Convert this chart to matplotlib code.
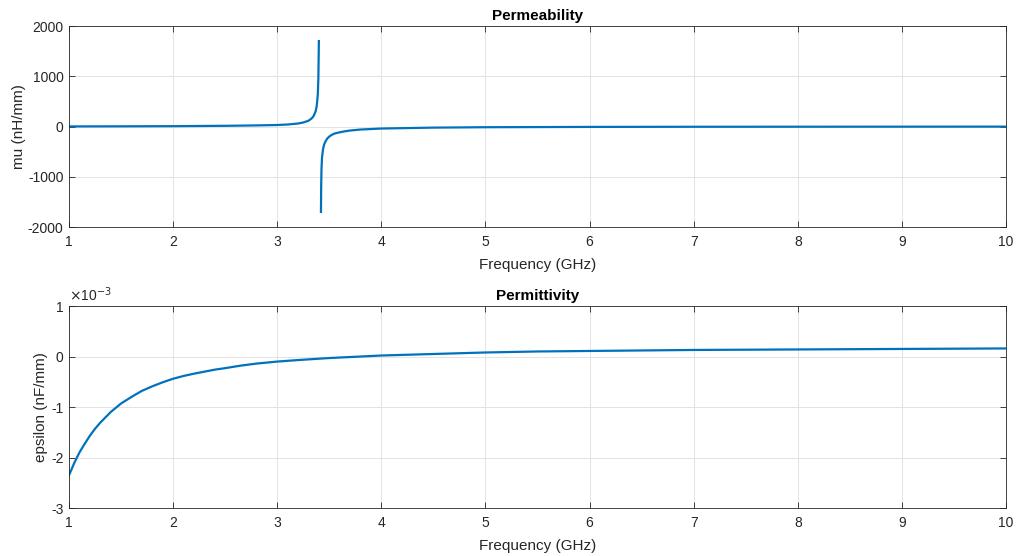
import numpy as np
import matplotlib.pyplot as plt

# permeability (nan = break at the resonance)
freq_mu = [1.0, 1.5, 2.0, 2.5, 2.8, 3.0, 3.1, 3.2, 3.25, 3.3, 3.33, 3.35, 3.37, 3.38, 3.39, 3.395, 3.40,
           3.41,
           3.42, 3.422, 3.425, 3.43, 3.44, 3.45, 3.465, 3.48, 3.50, 3.52, 3.55, 3.6, 3.65, 3.7, 3.8,
           4.0, 4.5, 5.0, 6.0, 7.0, 8.0, 10.0]
mu = [2, 4, 7, 14, 22, 30, 40, 60, 80, 115, 160, 210, 310, 420, 650, 950, 1700,
      np.nan,
      -1700, -1200, -850, -620, -450, -360, -290, -240, -200, -170, -140, -115, -95, -80, -60,
      -40, -22, -14, -8, -5, -4, -2]

# permittivity in units of 1e-3 nF/mm
freq_eps = [1.0, 1.05, 1.1, 1.15, 1.2, 1.25, 1.3, 1.4, 1.5, 1.6, 1.7, 1.8, 1.9, 2.0,
            2.1, 2.2, 2.3, 2.4, 2.5, 2.65, 2.8, 3.0, 3.2, 3.5, 3.75, 4.0, 4.5, 5.0, 5.5, 6.0,
            7.0, 8.0, 9.0, 10.0]
eps_e3 = [-2.35, -2.11, -1.90, -1.73, -1.57, -1.43, -1.31, -1.10, -0.93, -0.80, -0.68, -0.59, -0.51, -0.44,
          -0.385, -0.34, -0.30, -0.26, -0.23, -0.18, -0.14, -0.10, -0.07, -0.03, -0.005, 0.02, 0.05, 0.08,
          0.10, 0.11, 0.13, 0.14, 0.15, 0.16]

plt.rcParams['font.family'] = ['Liberation Sans', 'DejaVu Sans']
plt.rcParams['axes.unicode_minus'] = False

blue = '#0072BD'
edge = '#262626'
txt = '#262626'

fig = plt.figure(figsize=(10.21, 5.56), dpi=100)
ax1 = fig.add_axes([0.0676, 0.5917, 0.9177, 0.3615])
ax2 = fig.add_axes([0.0676, 0.0863, 0.9177, 0.3633])


def style(ax):
    ax.set_xlim(1, 10)
    ax.set_xticks(range(1, 11))
    ax.grid(True, color='#e3e3e3', linewidth=0.7)
    ax.set_axisbelow(True)
    ax.tick_params(direction='in', top=True, right=True, length=4, width=0.6,
                   labelsize=10, colors=edge, labelcolor=txt)
    ax.tick_params(axis='x', pad=6)
    ax.tick_params(axis='y', pad=4)
    for s in ax.spines.values():
        s.set_color(edge)
        s.set_linewidth(0.6)
    ax.set_xlabel('Frequency (GHz)', fontsize=11, color=txt, labelpad=6)


ax1.plot(freq_mu, mu, color=blue, linewidth=1.6)
style(ax1)
ax1.set_ylim(-2000, 2000)
ax1.set_yticks([-2000, -1000, 0, 1000, 2000])
ax1.set_ylabel('mu (nH/mm)', fontsize=11, color=txt, labelpad=1)
ax1.set_title('Permeability', fontsize=11, fontweight='bold', pad=4)

ax2.plot(freq_eps, eps_e3, color=blue, linewidth=1.6)
style(ax2)
ax2.set_ylim(-3, 1)
ax2.set_yticks([-3, -2, -1, 0, 1])
ax2.set_ylabel('epsilon (nF/mm)', fontsize=11, color=txt, labelpad=2)
ax2.set_title('Permittivity', fontsize=11, fontweight='bold', pad=4)
ax2.text(0.0, 1.01, r'$\times$10$^{-3}$', transform=ax2.transAxes, fontsize=10,
         color=txt, ha='left', va='bottom')

fig.savefig('out.png', dpi=100)
